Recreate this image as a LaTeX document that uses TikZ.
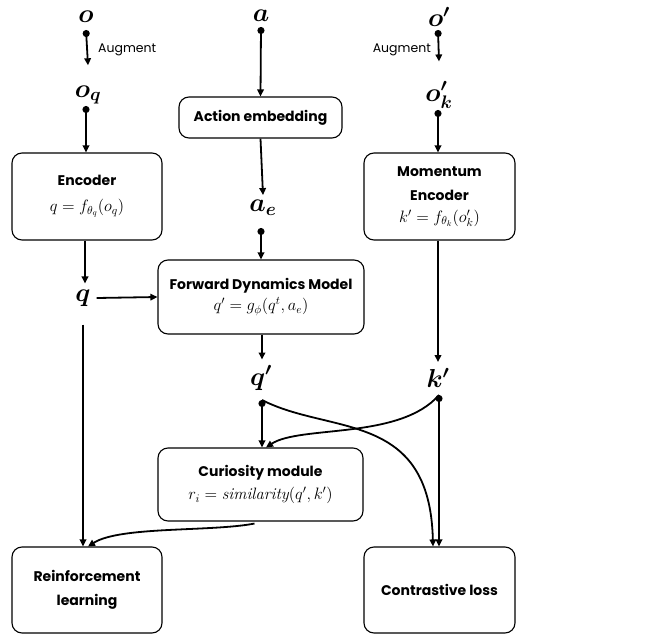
\RequirePackage{fix-cm}
\documentclass[tikz,border=0pt]{standalone}
\usepackage{amsmath,bm}
\usepackage{fontspec}
\setsansfont{Poppins}
\usetikzlibrary{arrows.meta}
\newcommand\mymathsize{\fontsize{16.5}{19}\selectfont\mdseries}
\begin{document}
\begin{tikzpicture}[x=1pt,y=-1pt,
  box/.style={draw,line width=1.1pt,rounded corners=10pt,align=center,inner sep=0pt,
    font=\sffamily\bfseries\fontsize{14}{24}\selectfont},
  var/.style={inner sep=0pt,font=\fontsize{26}{26}\selectfont},
  conn/.style={line width=1.8pt,-{Triangle[length=7pt,width=6.5pt]}},
  dconn/.style={line width=1.8pt,{Circle[length=7pt]}-{Triangle[length=7pt,width=6.5pt]}},
  lbl/.style={inner sep=0pt,font=\sffamily\fontsize{12.5}{14}\selectfont}]
\useasboundingbox (0,0) rectangle (665,635);
% variable labels
\node[var] (o) at (86,17) {$\bm{o}$};
\node[var] (oq) at (88,95) {$\bm{o_q}$};
\node[var] (a) at (261,16) {$\bm{a}$};
\node[var] (ae) at (263,208) {$\bm{a_e}$};
\node[var] (op) at (439,17) {$\bm{o'}$};
\node[var] (opk) at (439,95) {$\bm{o'_k}$};
\node[var] (q) at (83,298) {$\bm{q}$};
\node[var] (qp) at (261,378) {$\bm{q'}$};
\node[var] (kp) at (438,378) {$\bm{k'}$};
% boxes
\node[box,minimum width=150pt,minimum height=87pt] (enc) at (87,196.5)
  {Encoder\\[2pt]{\mymathsize$q=f_{\theta_q}(o_q)$}};
\node[box,minimum width=163pt,minimum height=41pt] (act) at (260.5,117.5) {Action embedding};
\node[box,minimum width=151pt,minimum height=87pt] (mom) at (439.5,196.5)
  {Momentum\\Encoder\\[-2pt]{\mymathsize$k'=f_{\theta_k}(o'_k)$}};
\node[box,minimum width=206pt,minimum height=74pt] (fdm) at (261,297)
  {Forward Dynamics Model\\[-3pt]{\mymathsize$q'=g_{\phi}(q^t,a_e)$}};
\node[box,minimum width=205pt,minimum height=73pt] (cur) at (260.5,484.5)
  {Curiosity module\\[-1pt]{\mymathsize$r_i=\mathit{similarity}(q',k')$}};
\node[box,minimum width=150pt,minimum height=86pt] (rl) at (87,590)
  {Reinforcement\\learning};
\node[box,minimum width=151pt,minimum height=86pt] (cl) at (439.5,590) {Contrastive loss};
% dot coordinates
\coordinate (od) at (86,30);
\coordinate (oqd) at (86,106);
\coordinate (ad) at (261,27);
\coordinate (aed) at (261,228);
\coordinate (opd) at (438,30);
\coordinate (opkd) at (438,110);
\coordinate (qpd) at (262,400);
\coordinate (kpd) at (439,395);
% Augment labels
\node[lbl,anchor=west] (aug1) at (98,50) {Augment};
\node[lbl,anchor=east] (aug2) at (431,50) {Augment};
% connectors
\draw[dconn] (od) -- ([yshift=20pt]oq.north);
\draw[dconn] (oqd) -- (enc.north -| oqd);
\draw[dconn] (ad) -- (act.north);
\draw[conn] (act.south) -- ([yshift=5pt]ae.north);
\draw[dconn] (aed) -- (fdm.north);
\draw[dconn] (opd) -- ([yshift=20pt]opk.north);
\draw[dconn] (opkd) -- (mom.north -| opkd);
\draw[conn] (enc.south -| 85,0) -- ([yshift=6pt]q.north -| 85,0);
\draw[conn] ([xshift=6pt]q.east) -- (fdm.west);
\draw[conn] (fdm.south -| 262,0) -- ([yshift=6pt]qp.north -| 262,0);
\draw[conn] (mom.south -| 438,0) -- ([yshift=6pt]kp.north -| 438,0);
\draw[conn] ([yshift=-18pt]q.south -| 83,0) -- (rl.north -| 83,0);
\draw[dconn] (qpd) -- (cur.north -| qpd);
\draw[conn] (qpd) .. controls (330,435) and (430,410) .. (cl.north -| 433,0);
\draw[dconn] (kpd) -- (cl.north -| kpd);
\draw[conn] (kpd) .. controls (400,440) and (300,425) .. (cur.north -| 266,0);
\draw[conn] ([xshift=-6pt,yshift=-2pt]cur.south) .. controls (210,532) and (120,526) .. (rl.north -| 88,0);
\end{tikzpicture}
\end{document}
